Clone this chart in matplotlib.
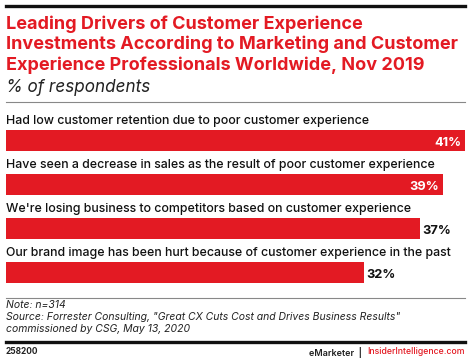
import matplotlib.pyplot as plt

# chart data
drivers = [
    "Had low customer retention due to poor customer experience",
    "Have seen a decrease in sales as the result of poor customer experience",
    "We're losing business to competitors based on customer experience",
    "Our brand image has been hurt because of customer experience in the past",
]
shares = [41, 39, 37, 32]

RED = "#e31a23"
W, H = 470, 362

plt.rcParams['font.family'] = ['Inter', 'DejaVu Sans']

fig = plt.figure(figsize=(W / 100, H / 100), dpi=100)


def px(x, y):
    # pixel position -> figure fraction
    return x / W, 1 - y / H


def hline(y, lw, color):
    fig.add_artist(plt.Line2D([6 / W, 465 / W], [1 - y / H, 1 - y / H],
                              color=color, lw=lw, transform=fig.transFigure))


hline(6, 2.4, "#111111")
hline(102, 0.8, "#888888")
hline(298, 0.8, "#888888")
hline(342, 2.4, "#111111")

title = ("Leading Drivers of Customer Experience\n"
         "Investments According to Marketing and Customer\n"
         "Experience Professionals Worldwide, Nov 2019")
fig.text(*px(6, 15.5), title, color=RED, fontsize=13, fontweight='bold',
         va='top', ha='left', linespacing=1.21)
fig.text(*px(6, 87), "% of respondents", fontsize=12.3, style='italic',
         va='center', ha='left', color="#222222")

# bars
ax = fig.add_axes([6 / W, 1 - 290 / H, 459 / W, 182 / H])
ypos = list(range(len(shares)))
ax.barh(ypos, shares, height=0.48, color=RED, edgecolor='none')
ax.set_xlim(0, 41)
ax.set_ylim(3.398, -0.739)
ax.axis('off')

for i, (lab, v) in enumerate(zip(drivers, shares)):
    ax.text(0, i - 0.44, lab, fontsize=8.9, fontweight='medium',
            va='center', ha='left', color="#111111")
    if v >= 39:
        ax.text(v - 0.3, i + 0.05, f"{v}%", fontsize=9.2, fontweight='bold',
                color='white', va='center', ha='right')
    else:
        ax.text(v + 0.2, i + 0.05, f"{v}%", fontsize=9.2, fontweight='bold',
                color='#111111', va='center', ha='left')

# notes
notes = ("Note: n=314\n"
         "Source: Forrester Consulting, \"Great CX Cuts Cost and Drives Business Results\"\n"
         "commissioned by CSG, May 13, 2020")
fig.text(*px(6, 300), notes, fontsize=7.5, style='italic', va='top', ha='left',
         color="#222222", linespacing=1.25)

# footer
fig.text(*px(6, 352), "258200", fontsize=6.0, fontweight='bold', va='center',
         ha='left', color="#222222")
site = fig.text(*px(465, 352), "InsiderIntelligence.com", fontsize=6.3, va='center',
                ha='right', color=RED, fontweight='medium')
fig.canvas.draw()
bb = site.get_window_extent()
fig.text(bb.x0 / W - 1 / W, 1 - 352 / H, "eMarketer  |  ", fontsize=6.5, va='center',
         ha='right', color="#222222", fontweight='semibold')

fig.savefig("out.png", dpi=100)
